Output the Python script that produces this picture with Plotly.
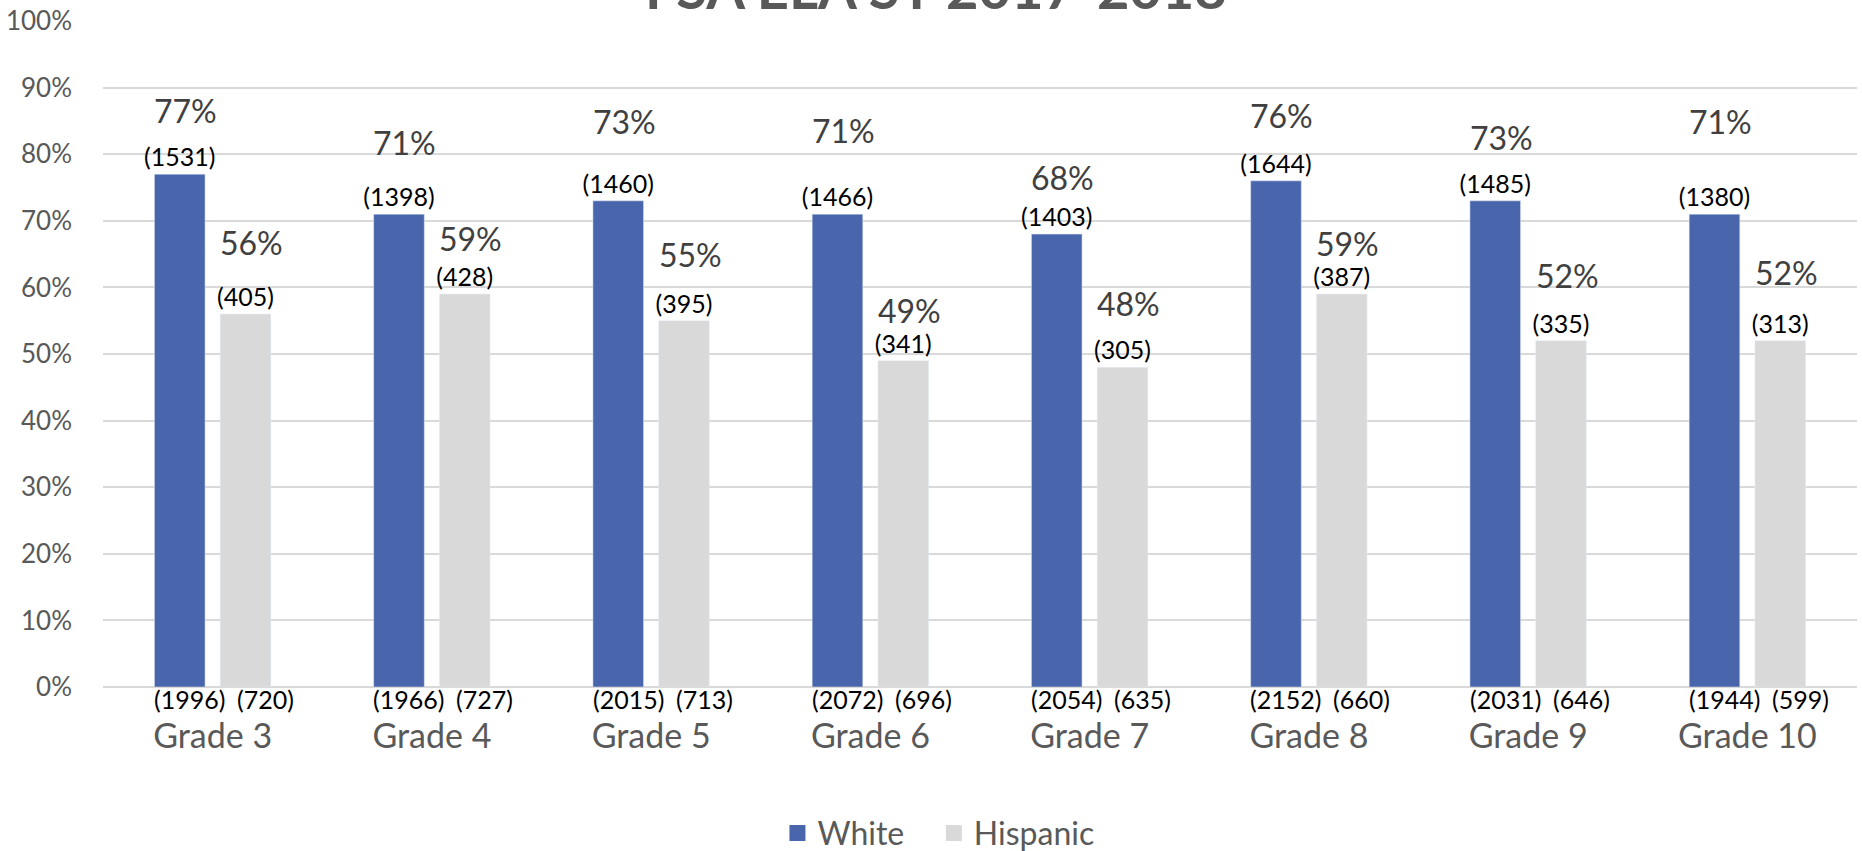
import plotly.graph_objects as go

# chart data
grades = ["Grade 3", "Grade 4", "Grade 5", "Grade 6", "Grade 7", "Grade 8", "Grade 9", "Grade 10"]
white_pct = [77, 71, 73, 71, 68, 76, 73, 71]
hispanic_pct = [56, 59, 55, 49, 48, 59, 52, 52]
white_passed = [1531, 1398, 1460, 1466, 1403, 1644, 1485, 1380]
hispanic_passed = [405, 428, 395, 341, 305, 387, 335, 313]
white_tested = [1996, 1966, 2015, 2072, 2054, 2152, 2031, 1944]
hispanic_tested = [720, 727, 713, 696, 635, 660, 646, 599]

# how far (px) each % label sits above its bar top, like the hand-moved labels in the original
white_lift = [64, 72, 79, 84, 57, 65, 63, 93]
hispanic_lift = [72, 56, 66, 50, 64, 51, 65, 68]

BLUE = "#4966AC"
GREY = "#D9D9D9"
FONT = "Lato"
bargap = 0.4
half = (1 - bargap) / 4  # centre of each bar inside the group

fig = go.Figure()
fig.add_trace(go.Bar(
    x=grades, y=white_pct, name="White", marker_color=BLUE, showlegend=False,
    text=[f"({n})" for n in white_passed], textposition="outside",
    textfont=dict(family=FONT, size=25, color="black"),
    constraintext="none", cliponaxis=False,
))
fig.add_trace(go.Bar(
    x=grades, y=hispanic_pct, name="Hispanic", marker_color=GREY, showlegend=False,
    text=[f"({n})" for n in hispanic_passed], textposition="outside",
    textfont=dict(family=FONT, size=25, color="black"),
    constraintext="none", cliponaxis=False,
))

# legend entries with bigger squares (nbsp padding widens the gap between the two)
for name, col in [("White\u00a0\u00a0\u00a0", BLUE), ("Hispanic", GREY)]:
    fig.add_trace(go.Scatter(
        x=[None], y=[None], mode="markers", name=name,
        marker=dict(symbol="square", size=20, color=col),
    ))

# percent labels above the bars, tested counts under the bars
for i in range(len(grades)):
    for pct, lift, tested, side, nudge in [
        (white_pct[i], white_lift[i], white_tested[i], -1, 10),
        (hispanic_pct[i], hispanic_lift[i], hispanic_tested[i], 1, 20),
    ]:
        fig.add_annotation(
            x=i + side * half, y=pct, text=f"{pct}%", showarrow=False,
            yanchor="middle", yshift=lift, xshift=6,
            font=dict(family=FONT, size=32, color="#404040"),
        )
        fig.add_annotation(
            x=i + side * half, y=0, text=f"({tested})", showarrow=False,
            yanchor="middle", yshift=-12, xshift=nudge,
            font=dict(family=FONT, size=25, color="black"),
        )

# title, mostly cut off at the top like in the source picture
fig.add_annotation(
    xref="paper", yref="paper", x=0.475, y=1, yanchor="bottom", yshift=-2,
    text="<b>FSA ELA SY 2017-2018</b>", showarrow=False,
    font=dict(family=FONT, size=56, color="#595959"),
)

fig.update_layout(
    width=1862, height=851,
    margin=dict(l=103, r=5, t=21, b=164),
    paper_bgcolor="white", plot_bgcolor="white",
    barmode="group", bargap=bargap, bargroupgap=0.23,
    font=dict(family=FONT, color="#595959"),
    legend=dict(
        orientation="h", xref="container", yref="container",
        x=0.504, xanchor="center", y=0.021, yanchor="middle",
        font=dict(family=FONT, size=32, color="#595959"),
    ),
    xaxis=dict(
        tickfont=dict(family=FONT, size=34, color="#595959"),
        ticklabelstandoff=26, showline=False, automargin=False,
    ),
    yaxis=dict(
        range=[0, 100], dtick=10, ticksuffix="%",
        tickfont=dict(family=FONT, size=26, color="#595959"),
        gridcolor=GREY, gridwidth=1.5, zeroline=True, zerolinecolor=GREY,
        zerolinewidth=1.5, ticklabelstandoff=30, automargin=False,
    ),
)

fig.write_html(
    "out.html",
    config={"displayModeBar": False},
    post_script="document.body.style.margin='0';",
)
